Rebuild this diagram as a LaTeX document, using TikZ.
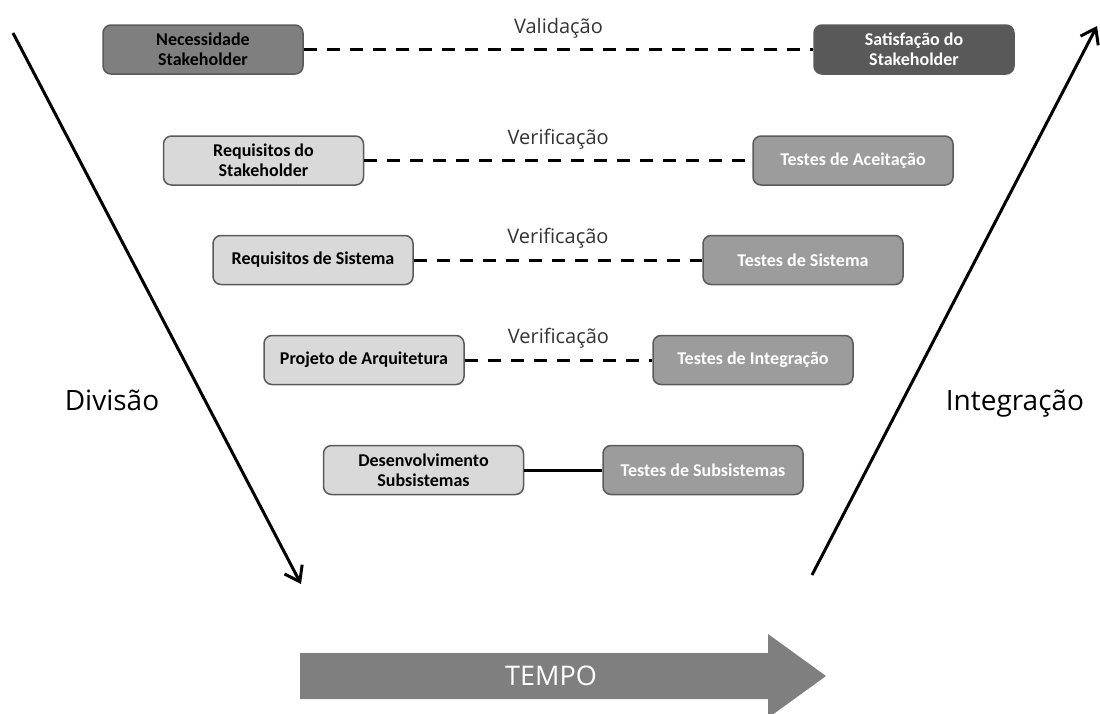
\documentclass[tikz,border=0pt]{standalone}
\usepackage{fontspec}
\setmainfont{Open Sans}
\newfontfamily\boxfont{Carlito}
\usetikzlibrary{arrows.meta}

\definecolor{caixaclara}{HTML}{D9D9D9}
\definecolor{caixamedia}{HTML}{7F7F7F}
\definecolor{caixaescura}{HTML}{595959}
\definecolor{caixateste}{HTML}{9C9C9C}
\definecolor{borda}{HTML}{5A5A5A}
\definecolor{rotulo}{HTML}{333333}

\begin{document}
\begin{tikzpicture}[x=1pt, y=-1pt,
  caixa/.style={draw=borda, line width=1.5pt, rounded corners=8pt, minimum width=200pt, minimum height=49pt, align=center, inner sep=0pt, font=\boxfont\bfseries\fontsize{18}{20}\selectfont},
  esq/.style={caixa, fill=caixaclara, text=black},
  dir/.style={caixa, fill=caixateste, text=white},
  liga/.style={line width=3pt, dash pattern=on 13pt off 10pt},
  rot/.style={text=rotulo, font=\fontsize{20}{24}\selectfont, anchor=base, yshift=16.5pt},
  fase/.style={text=black, font=\fontsize{28}{32}\selectfont, anchor=base},
  seta/.style={line width=3pt, -{Straight Barb[length=14pt, width=20pt, line width=3pt]}}]
\useasboundingbox (0,0) rectangle (1100,713);

\node[caixa, fill=caixamedia, text=black] (nec) at (203,49.5) {Necessidade\\Stakeholder};
\node[caixa, fill=caixaescura, text=white] (sat) at (914,49.5) {Satisfação do\\Stakeholder};
\node[esq] (reqst) at (263.5,160.5) {Requisitos do\\Stakeholder};
\node[dir] (aceit) at (853,160.5) {Testes de Aceitação};
\node[esq] (reqsis) at (313,260) {Requisitos de Sistema};
\node[dir] (tsis) at (803,260) {Testes de Sistema};
\node[esq] (arq) at (364,360) {Projeto de Arquitetura};
\node[dir] (tint) at (753,360) {Testes de Integração};
\node[esq] (desenv) at (423.5,470) {Desenvolvimento\\Subsistemas};
\node[dir] (tsub) at (703,470) {Testes de Subsistemas};

\draw[liga] (nec) -- node[rot, midway] {Validação} (sat);
\foreach \a/\b in {reqst/aceit, reqsis/tsis, arq/tint}
 \draw[liga] (\a) -- node[rot, midway] {Verificação} (\b);
\draw[line width=3pt] (desenv) -- (tsub);

\coordinate (d0) at (13,33);
\coordinate (d1) at (301,584);
\coordinate (i0) at (812,575);
\coordinate (i1) at (1097,26);
\draw[seta] (d0) -- (d1);
\draw[seta] (i0) -- (i1);
\node[fase] (div) at (112,410) {Divisão};
\node[fase] (integ) at (1015,410) {Integração};

\fill[caixamedia] (300,653) -- (768,653) -- (768,634) -- (826,676) -- (768,718) -- (768,699) -- (300,699) -- cycle;
\node[text=white, font=\fontsize{27}{30}\selectfont] (tempo) at (551,676) {TEMPO};
\end{tikzpicture}
\end{document}
